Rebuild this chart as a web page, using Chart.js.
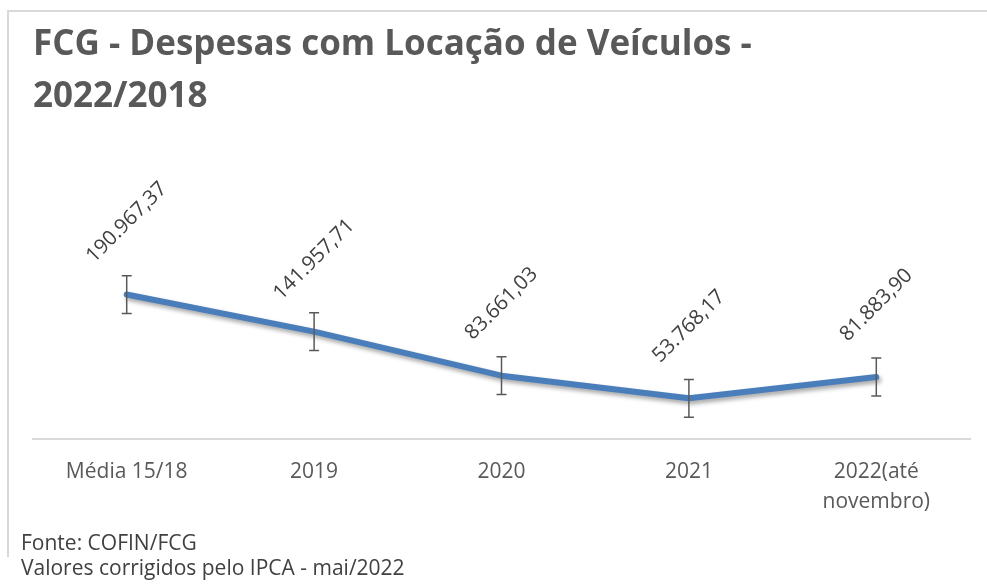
<!DOCTYPE html>
<html>
<head>
<meta charset="utf-8">
<script src="https://cdn.jsdelivr.net/npm/chart.js@4/dist/chart.umd.min.js"></script>
<style>
  html, body { margin: 0; padding: 0; background: #fff; }
  body { width: 987px; height: 587px; position: relative; overflow: hidden; font-family: "Open Sans", sans-serif; }
  #frame {
    position: absolute; left: 7px; top: 10px; width: 1000px; height: 545px;
    border-left: 2px solid #d9d9d9; border-top: 2px solid #d9d9d9;
  }
  #chart { position: absolute; left: 0; top: 0; }
  .note { position: absolute; left: 21px; color: #404040; font-size: 21px; line-height: 1; }
</style>
</head>
<body>
<div id="frame"></div>
<canvas id="chart" width="987" height="587"></canvas>
<div class="note" style="top:532px">Fonte: COFIN/FCG</div>
<div class="note" style="top:557px">Valores corrigidos pelo IPCA - mai/2022</div>
<script>
let categories = ["Média 15/18", "2019", "2020", "2021", ["2022(até", "novembro)"]];
let values = [190967.37, 141957.71, 83661.03, 53768.17, 81883.90];
let errors = [25000, 25000, 25000, 25000, 25000];

function fmt(v) {
  let [int, dec] = v.toFixed(2).split(".");
  return int.replace(/\B(?=(\d{3})+(?!\d))/g, ".") + "," + dec;
}

// sombra da linha
let shadowPlugin = {
  id: "shadow",
  beforeDatasetDraw(chart) {
    let ctx = chart.ctx;
    ctx.save();
    ctx.shadowColor = "rgba(0,0,0,0.35)";
    ctx.shadowBlur = 4;
    ctx.shadowOffsetX = 2;
    ctx.shadowOffsetY = 3;
  },
  afterDatasetDraw(chart) {
    chart.ctx.restore();
  }
};

// barras de erro + rótulos girados
let extrasPlugin = {
  id: "extras",
  afterDatasetsDraw(chart) {
    let ctx = chart.ctx;
    let y = chart.scales.y;
    let pts = chart.getDatasetMeta(0).data;
    ctx.save();
    ctx.strokeStyle = "#595959";
    ctx.lineWidth = 1.5;
    pts.forEach((p, i) => {
      let top = y.getPixelForValue(values[i] + errors[i]);
      let bot = y.getPixelForValue(values[i] - errors[i]);
      ctx.beginPath();
      ctx.moveTo(p.x, top); ctx.lineTo(p.x, bot);
      ctx.moveTo(p.x - 5, top); ctx.lineTo(p.x + 5, top);
      ctx.moveTo(p.x - 5, bot); ctx.lineTo(p.x + 5, bot);
      ctx.stroke();
    });
    ctx.fillStyle = "#404040";
    ctx.font = "20.5px 'Open Sans'";
    ctx.textAlign = "center";
    ctx.textBaseline = "middle";
    pts.forEach((p, i) => {
      ctx.save();
      ctx.translate(p.x, p.y - 72);
      ctx.rotate(-Math.PI / 4);
      ctx.fillText(fmt(values[i]), 0, 0);
      ctx.restore();
    });
    ctx.restore();
  }
};

new Chart(document.getElementById("chart"), {
  type: "line",
  data: {
    labels: categories,
    datasets: [{
      data: values,
      borderColor: "#4a7ebb",
      borderWidth: 6,
      borderCapStyle: "round",
      borderJoinStyle: "round",
      pointRadius: 0,
      tension: 0
    }]
  },
  options: {
    responsive: false,
    animation: false,
    layout: { padding: { left: 33, right: 17, top: 0, bottom: 52 } },
    plugins: {
      legend: { display: false },
      tooltip: { enabled: false },
      title: {
        display: true,
        text: ["FCG - Despesas com Locação de Veículos -", "2022/2018"],
        align: "start",
        color: "#595959",
        font: { family: "Open Sans", size: 35, weight: "bold", lineHeight: 1.49 },
        padding: { top: 19, bottom: 126.6 }
      }
    },
    scales: {
      x: {
        offset: true,
        grid: { display: false, drawTicks: false },
        border: { display: true, color: "#d9d9d9", width: 2 },
        ticks: { color: "#595959", font: { family: "Open Sans", size: 21, lineHeight: 1.43 }, padding: 18, maxRotation: 0 }
      },
      y: { display: false, min: 0, max: 250000 }
    }
  },
  plugins: [shadowPlugin, extrasPlugin]
});
</script>
</body>
</html>
